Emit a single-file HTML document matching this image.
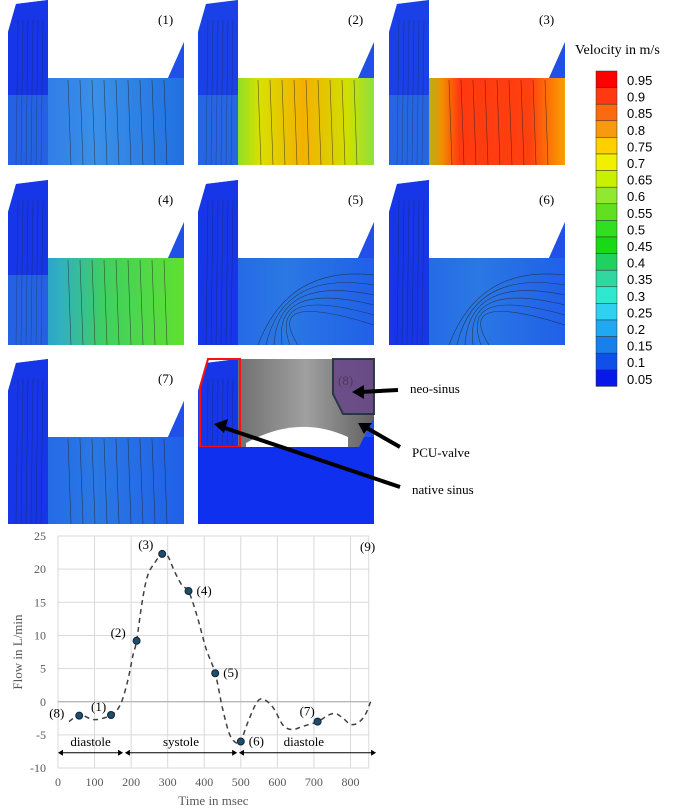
<!DOCTYPE html>
<html><head><meta charset="utf-8"><style>
body{margin:0;background:#fff;width:685px;height:810px;overflow:hidden;font-family:"Liberation Serif",serif}
svg{position:absolute;left:0;top:0}
</style></head><body>
<svg width="685" height="810" viewBox="0 0 685 810">
<defs>
<linearGradient id="g1" x1="0" x2="1"><stop offset="0" stop-color="#2a6fe8"/><stop offset="0.5" stop-color="#3a90e8"/><stop offset="1" stop-color="#2070e0"/></linearGradient>
<linearGradient id="g2" x1="0" x2="1"><stop offset="0" stop-color="#30c8c0"/><stop offset="0.15" stop-color="#60e040"/><stop offset="0.35" stop-color="#d8e000"/><stop offset="0.6" stop-color="#f4b000"/><stop offset="0.85" stop-color="#d0e000"/><stop offset="1" stop-color="#90e040"/></linearGradient>
<linearGradient id="g3" x1="0" x2="1"><stop offset="0" stop-color="#30c0d8"/><stop offset="0.12" stop-color="#60e040"/><stop offset="0.3" stop-color="#f09000"/><stop offset="0.4" stop-color="#ff3a10"/><stop offset="0.8" stop-color="#ff4010"/><stop offset="1" stop-color="#f8a000"/></linearGradient>
<linearGradient id="g4" x1="0" x2="1"><stop offset="0" stop-color="#2080e0"/><stop offset="0.3" stop-color="#30b0c0"/><stop offset="0.55" stop-color="#40d060"/><stop offset="1" stop-color="#60e030"/></linearGradient>
<linearGradient id="g5" x1="0" x2="1"><stop offset="0" stop-color="#2060e8"/><stop offset="0.5" stop-color="#2a78e4"/><stop offset="1" stop-color="#2060e8"/></linearGradient>
<linearGradient id="g8" x1="0" x2="1"><stop offset="0" stop-color="#1438f0"/><stop offset="1" stop-color="#1030f0"/></linearGradient>
<linearGradient id="gimg" x1="0" x2="1"><stop offset="0" stop-color="#707070"/><stop offset="0.5" stop-color="#a0a0a0"/><stop offset="1" stop-color="#606060"/></linearGradient>
</defs>
<g id="panels"></g>
<g id="colorbar"></g>
<text x="575" y="54" font-size="14">Velocity in m/s</text>
<g id="annot" font-size="13">
<text x="410" y="393">neo-sinus</text>
<text x="412" y="457">PCU-valve</text>
<text x="412" y="494">native sinus</text>
<line x1="398" y1="390" x2="360" y2="392" stroke="#000" stroke-width="4"/>
<polygon points="352,392 364,385 364,399" fill="#000"/>
<line x1="400" y1="447" x2="365" y2="427" stroke="#000" stroke-width="4"/>
<polygon points="358,423 372,423 364,434" fill="#000"/>
<line x1="400" y1="487" x2="222" y2="427" stroke="#000" stroke-width="4"/>
<polygon points="214,424 228,419 224,433" fill="#000"/>
</g>
<g id="chart"></g>
</svg>
<script>
const NS="http://www.w3.org/2000/svg";
function mk(p,t,a){const e=document.createElementNS(NS,t);for(const k in a)e.setAttribute(k,a[k]);p.appendChild(e);return e;}
const panelLabels=["(1)","(2)","(3)","(4)","(5)","(6)","(7)","(8)"];
const panelFills=["g1","g2","g3","g4","g5","g5","g5","g8"];
const px=[8,198,389],py=[0,180,359];
const pg=document.getElementById('panels');
for(let i=0;i<8;i++){
  const x=px[i%3],y=py[Math.floor(i/3)];
  const g=mk(pg,'g',{transform:`translate(${x},${y})`});
  
  
  mk(g,'polygon',{points:"8,4 40,0 40,78 160,78 176,42 176,165 0,165 0,32",fill:"url(#"+panelFills[i]+")"});
  mk(g,'polygon',{points:"8,4 40,0 40,165 0,165 0,32",fill:i===2||i===1?"#1a40e8":"#1636e8"});
  if(i<4) mk(g,'rect',{x:0,y:95,width:40,height:70,fill:"#3080e0",opacity:0.6});
  mk(g,'polygon',{points:"160,78 176,42 176,78",fill:"#2050e8"});
  for(let k=0;k<6;k++){const sx=8+k*5;mk(g,'path',{d:`M${sx},165 L${sx+2},20`,stroke:"#222",fill:"none","stroke-width":0.5,opacity:0.5});}
  if(i<4||i===6){for(let k=0;k<9;k++){const sx=60+k*12;mk(g,'path',{d:`M${sx},80 L${sx+3},165`,stroke:"#222",fill:"none","stroke-width":0.6,opacity:0.7});}}
  else{for(let k=0;k<6;k++){mk(g,'path',{d:`M176,${95+k*10} Q${90-k*5},${85+k*5} ${60+k*8},165`,stroke:"#222",fill:"none","stroke-width":0.6,opacity:0.7});}}
  if(i===7){
    mk(g,'polygon',{points:"40,0 176,0 176,58 160,90 40,90",fill:"url(#gimg)"});
    mk(g,'path',{d:"M48,84 Q100,55 150,78 L150,90 L48,90 Z",fill:"#fff"});
    mk(g,'polygon',{points:"135,0 176,0 176,55 145,55 135,35",fill:"#6a4a8a",stroke:"#203040","stroke-width":2,opacity:0.9});
    mk(g,'polygon',{points:"10,0 42,0 42,88 2,88 2,28",fill:"none",stroke:"#ff1010","stroke-width":2});
    mk(g,'rect',{x:0,y:88,width:176,height:77,fill:"#1030f0"});
    mk(g,'text',{x:140,y:26,"font-size":13,fill:"#4a3a5a"}).textContent=panelLabels[i];
  } else {
    const t=mk(g,'text',{x:150,y:24,"font-size":13});t.textContent=panelLabels[i];
  }
}
const cbValues=["0.95","0.9","0.85","0.8","0.75","0.7","0.65","0.6","0.55","0.5","0.45","0.4","0.35","0.3","0.25","0.2","0.15","0.1","0.05"];
const cbColors=["#ff0000","#ff3a10","#fa6a10","#f89a10","#ffd000","#f0f000","#c8f000","#90e830","#60e020","#30e020","#18d818","#20d060","#30d8a0","#30e8d0","#30d0f0","#20a8f0","#1880e8","#1050e8","#0818e8"];
const cb=document.getElementById('colorbar');
cbColors.forEach((c,i)=>{const r=mk(cb,'rect',{x:596,y:71+i*16.6,width:21,height:16.6,fill:c,stroke:"#333","stroke-width":0.5});

const t=mk(cb,'text',{x:627,y:71+i*16.6+14,"font-size":13,"font-family":"Liberation Sans, sans-serif"});t.textContent=cbValues[i];
});
const xTicks=[0,100,200,300,400,500,600,700,800];
const yTicks=[25,20,15,10,5,0,-5,-10];
const curveT=[30,60,100,145,170,190,205,215,230,245,265,285,300,320,340,357,380,405,430,450,470,490,500,520,545,565,590,615,640,670,710,740,760,780,800,820,840,855];
const curveF=[-3,-2,-2.7,-2,-0.5,3,7,9.2,15,19,21,22.3,22,19.5,17.5,16.7,13,8,4.3,-1,-5,-6.3,-6,-3,0,0.3,-1,-3.5,-4.2,-3.7,-3,-2,-1.8,-2.5,-3.4,-3.2,-2,0];
const markT=[58,145,215,285,357,430,500,710];
const markF=[-2.1,-2,9.2,22.3,16.7,4.3,-6,-3];
const markLbl=["(8)","(1)","(2)","(3)","(4)","(5)","(6)","(7)"];
const lblDx=[-30,-20,-26,-24,8,8,8,-18],lblDy=[2,-4,-4,-5,4,4,4,-6];
const X=t=>58+t*0.3656, Y=f=>536+(25-f)*6.63;
const ch=document.getElementById('chart');
xTicks.forEach(t=>{mk(ch,'line',{x1:X(t),x2:X(t),y1:Y(25),y2:Y(-10),stroke:"#d9d9d9"});
 const l=mk(ch,'text',{x:X(t),y:786,"text-anchor":"middle","font-size":12,fill:"#595959"});l.textContent=t;
 });
mk(ch,'line',{x1:X(850),x2:X(850),y1:Y(25),y2:Y(-10),stroke:"#d9d9d9"});
yTicks.forEach(f=>{mk(ch,'line',{x1:X(0),x2:X(850),y1:Y(f),y2:Y(f),stroke:"#d9d9d9"});
 const l=mk(ch,'text',{x:46,y:Y(f)+4,"text-anchor":"end","font-size":12,fill:"#595959"});l.textContent=f;
 });
mk(ch,'line',{x1:X(0),x2:X(850),y1:Y(0),y2:Y(0),stroke:"#a6a6a6"});
let d="";const pts=curveT.map((t,i)=>[X(t),Y(curveF[i])]);
d="M"+pts[0];for(let i=0;i<pts.length-1;i++){const p0=pts[Math.max(0,i-1)],p1=pts[i],p2=pts[i+1],p3=pts[Math.min(pts.length-1,i+2)];
d+=` C${p1[0]+(p2[0]-p0[0])/6},${p1[1]+(p2[1]-p0[1])/6} ${p2[0]-(p3[0]-p1[0])/6},${p2[1]-(p3[1]-p1[1])/6} ${p2[0]},${p2[1]}`;}
const cp=mk(ch,'path',{d:d,fill:"none",stroke:"#404040","stroke-width":1.5,"stroke-dasharray":"5,4"});

markT.forEach((t,i)=>{const c=mk(ch,'circle',{cx:X(t),cy:Y(markF[i]),r:3.5,fill:"#1f4e6b",stroke:"#123"});

const l=mk(ch,'text',{x:X(t)+lblDx[i],y:Y(markF[i])+lblDy[i],"font-size":13});l.textContent=markLbl[i];});
mk(ch,'text',{x:360,y:551,"font-size":13}).textContent="(9)";
const ay=Y(-7.7);
[[0,178,"diastole"],[183,490,"systole"],[495,870,"diastole"]].forEach(s=>{
 mk(ch,'line',{x1:X(s[0])+1,x2:X(s[1])-1,y1:ay,y2:ay,stroke:"#000","stroke-width":1});
 mk(ch,'polygon',{points:`${X(s[0])},${ay} ${X(s[0])+5},${ay-3} ${X(s[0])+5},${ay+3}`,fill:"#000"});
 mk(ch,'polygon',{points:`${X(s[1])},${ay} ${X(s[1])-5},${ay-3} ${X(s[1])-5},${ay+3}`,fill:"#000"});
 const l=mk(ch,'text',{x:(X(s[0])+X(Math.min(s[1],850)))/2,y:ay-7,"text-anchor":"middle","font-size":13});l.textContent=s[2];
 });
const xt=mk(ch,'text',{x:X(425),y:805,"text-anchor":"middle","font-size":13,fill:"#595959"});xt.textContent="Time in msec";

const yt=mk(ch,'text',{x:0,y:0,"text-anchor":"middle","font-size":13,fill:"#595959",transform:`translate(22,${Y(7.5)}) rotate(-90)`});yt.textContent="Flow in L/min";

</script>
</body></html>
